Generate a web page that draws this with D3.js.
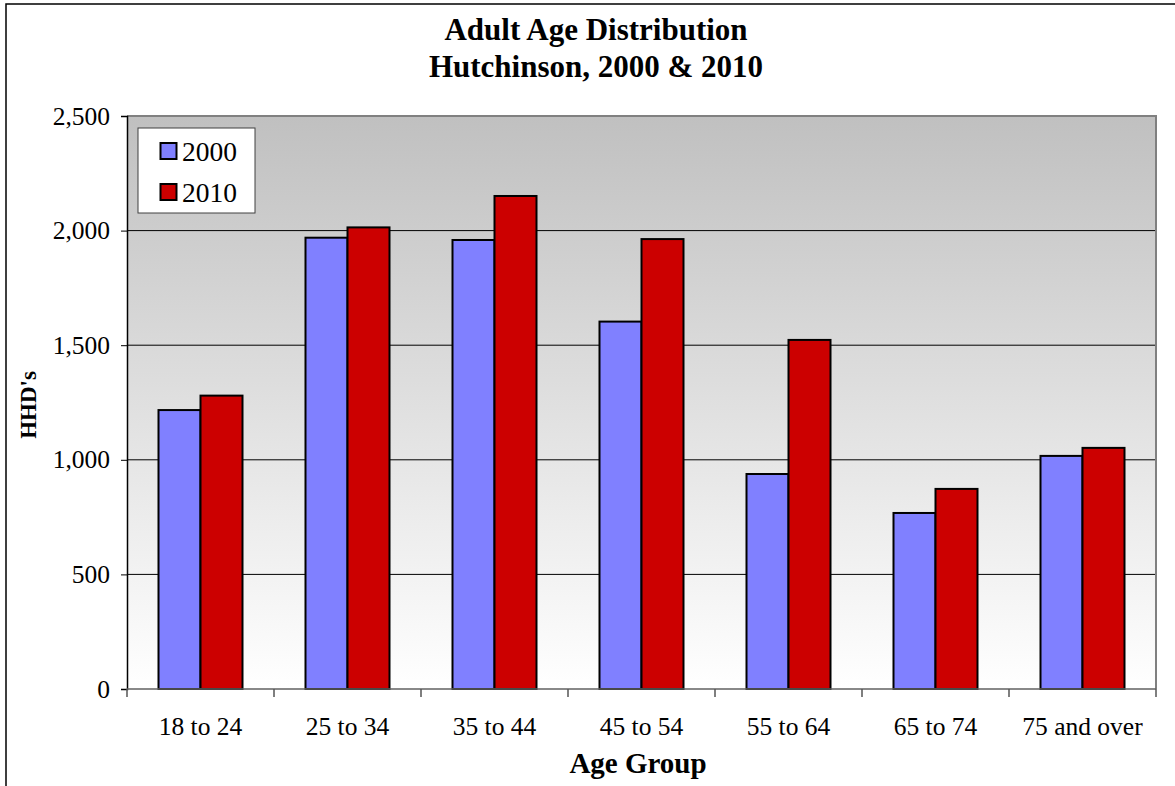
<!DOCTYPE html>
<html><head><meta charset="utf-8">
<script src="https://cdn.jsdelivr.net/npm/d3@7"></script>
<style>body{margin:0;background:#fff;} svg{display:block;} text{font-family:"Liberation Serif","Times New Roman",serif;}</style>
</head><body>
<svg id="c" width="1175" height="786"></svg>
<script>
const categories = ["18 to 24","25 to 34","35 to 44","45 to 54","55 to 64","65 to 74","75 and over"];
const seriesNames = ["2000","2010"];
const values2000 = [1217, 1969, 1959, 1603, 938, 768, 1017];
const values2010 = [1280, 2014, 2151, 1963, 1523, 873, 1052];
const yTicks = [0, 500, 1000, 1500, 2000, 2500];
const colors = ["#8080ff", "#cc0000"];

const svg = d3.select("#c");
const M = {left:127, top:116, right:1156, bottom:689};

// outer border
svg.append("rect").attr("x",6).attr("y",4).attr("width",1180).attr("height",800)
  .attr("fill","none").attr("stroke","#000").attr("stroke-width",1.5);

const defs = svg.append("defs");
const g = defs.append("linearGradient").attr("id","bg").attr("x1",0).attr("y1",0).attr("x2",0).attr("y2",1);
g.append("stop").attr("offset","0%").attr("stop-color","#c0c0c0");
g.append("stop").attr("offset","100%").attr("stop-color","#ffffff");

const x = d3.scaleBand().domain(categories).range([M.left, M.right]).paddingInner(0).paddingOuter(0);
const x1 = d3.scaleBand().domain(seriesNames).range([0, x.bandwidth()]).paddingInner(0).paddingOuter(0.75);
const y = d3.scaleLinear().domain([0,2500]).range([M.bottom, M.top]);

svg.append("rect").attr("x",M.left).attr("y",M.top).attr("width",M.right-M.left).attr("height",M.bottom-M.top)
  .attr("fill","url(#bg)");

// gridlines
svg.append("g").selectAll("line").data(yTicks.filter(d=>d>0 && d<2500)).join("line")
  .attr("x1",M.left).attr("x2",M.right).attr("y1",d=>y(d)).attr("y2",d=>y(d))
  .attr("stroke","#000").attr("stroke-width",1);

// plot border top/right
svg.append("path").attr("d",`M${M.left},${M.top}H${M.right}V${M.bottom}`)
  .attr("fill","none").attr("stroke","#808080").attr("stroke-width",2);

// bars
const data = categories.map((c,i)=>({c, vals:[values2000[i], values2010[i]]}));
const groups = svg.append("g").selectAll("g").data(data).join("g")
  .attr("transform",d=>`translate(${x(d.c)},0)`);
groups.selectAll("rect").data(d=>d.vals.map((v,j)=>({v, s:seriesNames[j], j}))).join("rect")
  .attr("x",d=>x1(d.s)).attr("width",x1.bandwidth())
  .attr("y",d=>y(d.v)).attr("height",d=>y(0)-y(d.v))
  .attr("fill",d=>colors[d.j]).attr("stroke","#000").attr("stroke-width",2);

// y axis
const yAxis = d3.axisLeft(y).tickValues(yTicks).tickSize(6).tickPadding(11).tickFormat(d3.format(","));
const ya = svg.append("g").attr("transform",`translate(${M.left},0)`).call(yAxis);
ya.select(".domain").attr("stroke","#000").attr("stroke-width",1.5);
ya.selectAll(".tick line").attr("stroke","#000");
ya.selectAll("text").attr("font-size",25.5).attr("fill","#000").style("font-family","'Liberation Serif',serif");

// x axis
const xa = svg.append("g").attr("transform",`translate(0,${M.bottom})`);
xa.append("line").attr("x1",M.left).attr("x2",M.right).attr("stroke","#606060").attr("stroke-width",1.5);
const bounds = categories.map(c=>x(c)).concat([M.right]);
xa.selectAll("line.t").data(bounds).join("line").attr("class","t")
  .attr("x1",d=>d).attr("x2",d=>d).attr("y1",0).attr("y2",8).attr("stroke","#555").attr("stroke-width",1.5);
xa.selectAll("text").data(categories).join("text")
  .attr("x",d=>x(d)+x.bandwidth()/2).attr("y",46).attr("text-anchor","middle")
  .attr("font-size",25.5).text(d=>d);

// titles
svg.append("text").attr("x",596).attr("y",40).attr("text-anchor","middle").attr("font-size",31).attr("font-weight","bold").text("Adult Age Distribution");
svg.append("text").attr("x",596).attr("y",77).attr("text-anchor","middle").attr("font-size",31).attr("font-weight","bold").text("Hutchinson, 2000 & 2010");
svg.append("text").attr("x",638).attr("y",773).attr("text-anchor","middle").attr("font-size",29).attr("font-weight","bold").text("Age Group");
svg.append("text").attr("transform","translate(36,405) rotate(-90)").attr("text-anchor","middle").attr("font-size",23).attr("font-weight","bold").text("HHD's");

// legend
const lg = svg.append("g");
lg.append("rect").attr("x",138).attr("y",128).attr("width",117).attr("height",85).attr("fill","#fff").attr("stroke","#404040").attr("stroke-width",1);
seriesNames.forEach((s,i)=>{
  const cy = 151 + i*41;
  lg.append("rect").attr("x",160.5).attr("y",cy-8).attr("width",16).attr("height",16).attr("fill",colors[i]).attr("stroke","#000").attr("stroke-width",2);
  lg.append("text").attr("x",182).attr("y",cy+10).attr("font-size",27.5).text(s);
});
</script>
</body></html>
